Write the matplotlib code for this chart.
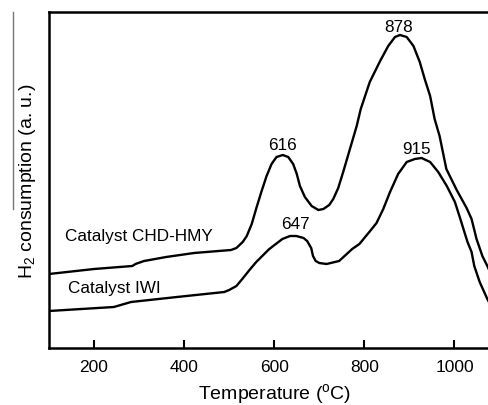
import matplotlib
matplotlib.use("Agg")
from matplotlib import pyplot as plt
from matplotlib.lines import Line2D

plt.rcParams["font.family"] = ["Liberation Sans", "DejaVu Sans"]
plt.rcParams["mathtext.fontset"] = "custom"
plt.rcParams["mathtext.rm"] = "Liberation Sans"
plt.rcParams["mathtext.it"] = "Liberation Sans:italic"

# TPR profiles (signal in arbitrary units)
chd_temp = [100, 200, 285, 292, 311, 360, 422, 504, 516, 530, 539, 550, 561, 572,
            583, 594, 605, 619, 631, 642, 650, 657, 668, 683, 698, 709, 722, 731,
            742, 753, 768, 783, 792, 812, 835, 853, 868, 879, 894, 909, 923, 934,
            946, 956, 967, 982, 1005, 1027, 1038, 1049, 1062, 1073, 1080]
chd_signal = [74, 79, 82, 84, 87, 91, 95, 98, 100, 106, 112, 124, 141, 157,
              172, 184, 191, 193, 191, 184, 174, 162, 151, 142, 138, 139, 143, 149,
              160, 176, 199, 222, 239, 266, 287, 302, 311, 313, 311, 302, 286, 269,
              252, 229, 212, 179, 158, 140, 129, 109, 92, 82, 75]

iwi_temp = [100, 244, 282, 384, 489, 500, 516, 529, 545, 560, 589, 618, 635, 649,
            665, 673, 682, 686, 692, 700, 716, 744, 773, 789, 811, 827, 842, 857,
            875, 894, 912, 927, 946, 964, 983, 1001, 1011, 1029, 1038, 1044, 1056,
            1073, 1080]
iwi_signal = [37, 41, 46, 51, 56, 58, 62, 69, 78, 86, 99, 109, 112, 112,
              110, 107, 100, 92, 87, 85, 84, 87, 99, 104, 116, 125, 139, 156,
              174, 186, 189, 190, 186, 176, 162, 146, 132, 106, 96, 82, 66,
              49, 43]

curve_names = ["Catalyst CHD-HMY", "Catalyst IWI"]
peak_labels = ["616", "878", "647", "915"]
x_ticks = [200, 400, 600, 800, 1000]

W, H = 489, 406
fig = plt.figure(figsize=(W / 100, H / 100), dpi=100)
# axes runs past the right edge of the picture, like the original crop
ax = fig.add_axes([49 / W, (H - 349) / H, 450.5 / W, 336 / H])

ax.plot(chd_temp, chd_signal, color="black", linewidth=1.7)
ax.plot(iwi_temp, iwi_signal, color="black", linewidth=1.7)

ax.set_xlim(100, 1100)
ax.set_ylim(0, 336)
ax.set_xticks(x_ticks)
ax.set_yticks([])
ax.tick_params(axis="x", direction="in", length=6, width=1.5, labelsize=12.5, pad=8)

for side in ["left", "top", "bottom"]:
    ax.spines[side].set_linewidth(1.8)
ax.spines["right"].set_visible(False)

ax.text(136, 112, curve_names[0], fontsize=12.3, va="center", ha="left")
ax.text(142, 61, curve_names[1], fontsize=12.3, va="center", ha="left")

peak_pos = [(618, 204), (876, 321), (648, 124), (915, 199)]
for lab, (px, py) in zip(peak_labels, peak_pos):
    ax.text(px, py, lab, fontsize=12.3, ha="center", va="center")

ax.set_xlabel("Temperature ($^{\\rm o}$C)", fontsize=14, labelpad=5)
ax.set_ylabel("H$_2$ consumption (a. u.)", fontsize=14, labelpad=8)

# thin grey stroke beside the y label, as in the scan
fig.add_artist(Line2D([13 / W, 13 / W], [1 - 13 / H, 1 - 210 / H],
                      color="#777777", linewidth=1))

fig.savefig("out.png", dpi=100)
